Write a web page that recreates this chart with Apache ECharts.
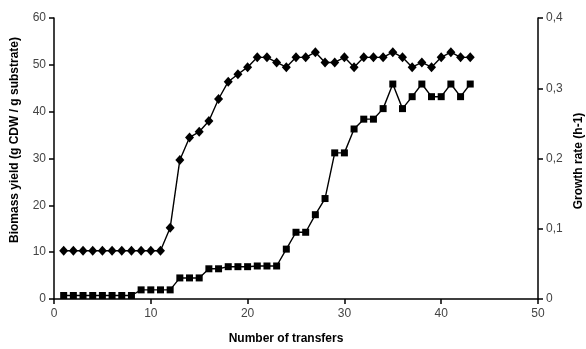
<!DOCTYPE html>
<html><head><meta charset="utf-8">
<script src="https://cdn.jsdelivr.net/npm/echarts@6/dist/echarts.min.js"></script>
<style>html,body{margin:0;padding:0;background:#fff}#c{width:586px;height:349px}</style>
</head><body><div id="c"></div>
<script>
const transfers = [1,2,3,4,5,6,7,8,9,10,11,12,13,14,15,16,17,18,19,20,21,22,23,24,25,26,27,28,29,30,31,32,33,34,35,36,37,38,39,40,41,42,43];
const biomassYield = [10.3,10.3,10.3,10.3,10.3,10.3,10.3,10.3,10.3,10.3,10.3,15.2,29.7,34.5,35.7,38.0,42.7,46.4,48.0,49.5,51.6,51.6,50.5,49.5,51.6,51.6,52.7,50.5,50.5,51.6,49.5,51.6,51.6,51.6,52.7,51.6,49.5,50.5,49.5,51.6,52.7,51.6,51.6];
const growthRate = [0.005,0.005,0.005,0.005,0.005,0.005,0.005,0.005,0.013,0.013,0.013,0.013,0.030,0.030,0.030,0.043,0.043,0.046,0.046,0.046,0.047,0.047,0.047,0.071,0.095,0.095,0.120,0.143,0.208,0.208,0.242,0.256,0.256,0.271,0.306,0.271,0.288,0.306,0.288,0.288,0.306,0.288,0.306];
const xTicks = {min:0, max:50, interval:10};
const yLeft = {min:0, max:60, interval:10};
const yRight = {min:0, max:0.4, interval:0.1};

const chart = echarts.init(document.getElementById('c'), null, {renderer:'canvas'});
const font = 'Liberation Sans, Arial, sans-serif';
const axisCommon = {
  axisLine:{show:true, lineStyle:{color:'#000', width:1.5}},
  axisTick:{show:true, length:5, lineStyle:{color:'#000', width:1.5}},
  splitLine:{show:false},
  axisLabel:{color:'#444', fontSize:12, fontFamily:font}
};
chart.setOption({
  animation:false,
  grid:{left:54, right:48, top:18, bottom:50},
  xAxis:Object.assign({type:'value', min:xTicks.min, max:xTicks.max, interval:xTicks.interval}, axisCommon,
    {axisLabel:Object.assign({}, axisCommon.axisLabel, {margin:9})}),
  yAxis:[
    Object.assign({type:'value', position:'left', min:yLeft.min, max:yLeft.max, interval:yLeft.interval}, axisCommon,
      {axisLabel:Object.assign({}, axisCommon.axisLabel, {margin:8})}),
    Object.assign({type:'value', position:'right', min:yRight.min, max:yRight.max, interval:yRight.interval}, axisCommon,
      {axisLabel:Object.assign({}, axisCommon.axisLabel, {margin:8,
        formatter:v => v === 0 ? '0' : v.toFixed(1).replace('.', ',')})})
  ],
  graphic:[
    {type:'text', x:15, y:140, rotation:Math.PI/2, style:{text:'Biomass yield (g CDW / g substrate)', font:'bold 12px '+font, fill:'#000', textAlign:'center', textVerticalAlign:'middle'}},
    {type:'text', x:579, y:161, rotation:Math.PI/2, style:{text:'Growth rate (h-1)', font:'bold 12px '+font, fill:'#000', textAlign:'center', textVerticalAlign:'middle'}},
    {type:'text', x:286, y:339, style:{text:'Number of transfers', font:'bold 12px '+font, fill:'#000', textAlign:'center', textVerticalAlign:'middle'}}
  ],
  series:[
    {type:'line', yAxisIndex:0, data:transfers.map((x,i)=>[x, biomassYield[i]]),
     symbol:'diamond', symbolSize:[9,10], lineStyle:{color:'#000', width:1.4}, itemStyle:{color:'#000'}},
    {type:'line', yAxisIndex:1, data:transfers.map((x,i)=>[x, growthRate[i]]),
     symbol:'rect', symbolSize:7, lineStyle:{color:'#000', width:1.4}, itemStyle:{color:'#000'}}
  ]
});
</script></body></html>
